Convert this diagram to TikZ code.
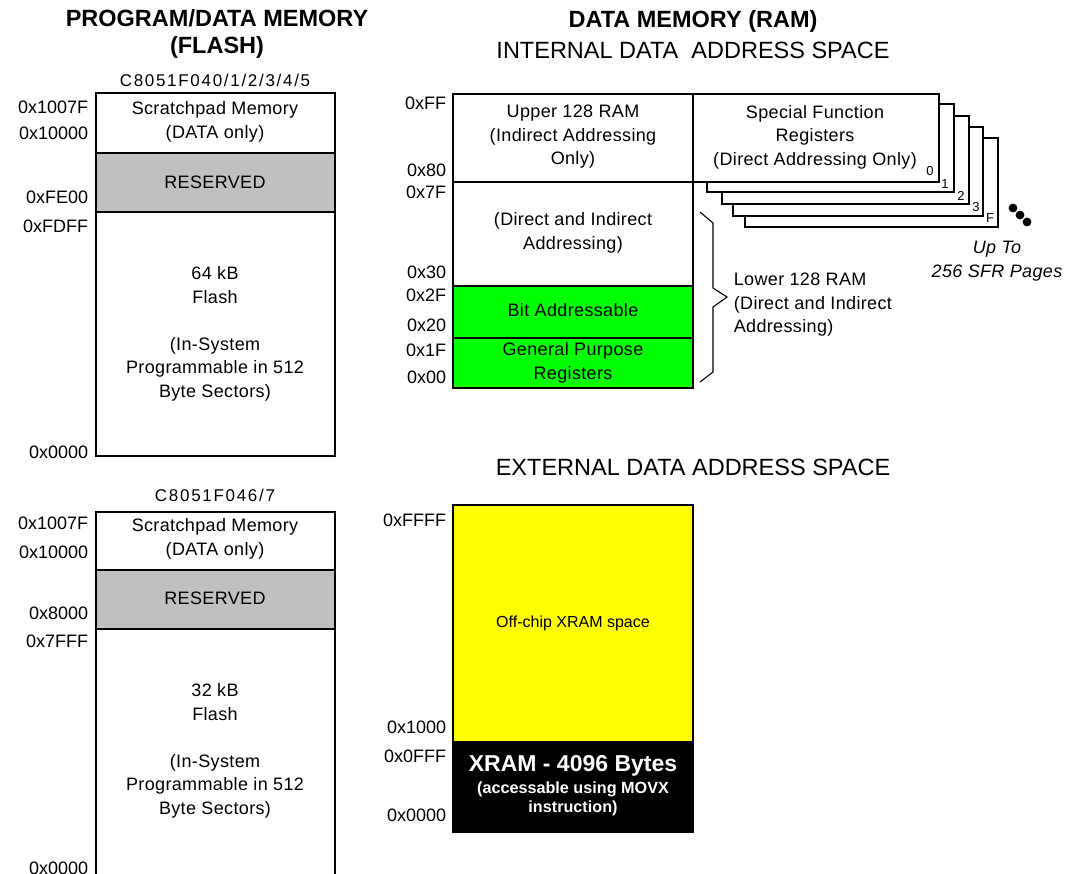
\documentclass[tikz,border=0pt]{standalone}
\usepackage{fontspec}
\setmainfont{Liberation Sans}
\definecolor{resgray}{RGB}{192,192,192}
\definecolor{ramgreen}{RGB}{0,255,0}
\definecolor{xyellow}{RGB}{255,255,0}
\begin{document}
\begin{tikzpicture}[x=1pt,y=-1pt,line width=1.6pt,
  lbl/.style={anchor=east,inner sep=0pt,font=\fontsize{18}{22}\selectfont},
  txt/.style={align=center,inner sep=0pt,font=\fontsize{18}{23.5}\selectfont\addfontfeatures{LetterSpace=2}},
  ttl/.style={align=center,inner sep=0pt,font=\fontsize{23.5}{27}\selectfont\bfseries},
  sub/.style={align=center,inner sep=0pt,font=\fontsize{23.5}{26}\selectfont},
  chip/.style={inner sep=0pt,font=\fontsize{17}{20}\selectfont\addfontfeatures{LetterSpace=10}},
  pg/.style={inner sep=0pt,font=\fontsize{13}{14}\selectfont},
  box/.style={draw=black,fill=white}]
\useasboundingbox (0,0) rectangle (1070,873);

% ---------- titles ----------
\node[ttl] (t1) at (217,34) {PROGRAM/DATA MEMORY\\(FLASH)};
\node[ttl] (t2) at (693,21) {DATA MEMORY (RAM)};
\node[sub] (t3) at (693,50) {INTERNAL DATA\ \ ADDRESS SPACE};
\node[sub] (t4) at (693,467) {EXTERNAL DATA ADDRESS SPACE};

% ---------- flash box 1 ----------
\node[chip] (c1) at (215,80) {C8051F040/1/2/3/4/5};
\filldraw[box] (96,93) rectangle (335,456);
\filldraw[draw=black,fill=resgray] (96,153) rectangle (335,212);
\node[txt] (sp1) at (215,122) {Scratchpad Memory\\(DATA only)};
\node[txt] (rs1) at (215,182) {RESERVED};
\node[txt] (fl1) at (215,285) {64 kB\\Flash};
\node[txt] (is1) at (215,369) {(In-System\\Programmable in 512\\Byte Sectors)};
\node[lbl] (a11) at (89,107) {0x1007F};
\node[lbl] (a12) at (89,133) {0x10000};
\node[lbl] (a13) at (89,197) {0xFE00};
\node[lbl] (a14) at (89,226) {0xFDFF};
\node[lbl] (a15) at (89,452) {0x0000};

% ---------- flash box 2 ----------
\node[chip] (c2) at (215,495) {C8051F046/7};
\fill[white] (96,512) rectangle (335,880);
\draw (96,880) -- (96,512) -- (335,512) -- (335,880);
\filldraw[draw=black,fill=resgray] (96,570) rectangle (335,629);
\node[txt] (sp2) at (215,539) {Scratchpad Memory\\(DATA only)};
\node[txt] (rs2) at (215,598) {RESERVED};
\node[txt] (fl2) at (215,702) {32 kB\\Flash};
\node[txt] (is2) at (215,786) {(In-System\\Programmable in 512\\Byte Sectors)};
\node[lbl] (a21) at (89,523) {0x1007F};
\node[lbl] (a22) at (89,552) {0x10000};
\node[lbl] (a23) at (89,613) {0x8000};
\node[lbl] (a24) at (89,641) {0x7FFF};
\node[lbl] (a25) at (89,868) {0x0000};

% ---------- SFR pages ----------
\filldraw[box] (745,138) rectangle (998,227);
\filldraw[box] (733,127) rectangle (983,216);
\filldraw[box] (722,116) rectangle (969,204);
\filldraw[box] (707,104) rectangle (954,192);
\filldraw[box] (693,94) rectangle (939,182);
\node[txt] (sfr) at (815,137) {Special Function\\Registers\\(Direct Addressing Only)};
\node[pg] (p0) at (930,171) {0};
\node[pg] (p1) at (945,184) {1};
\node[pg] (p2) at (961,196) {2};
\node[pg] (p3) at (976,207) {3};
\node[pg] (pF) at (990,218) {F};
\fill (1013,208) circle (4.4);
\fill (1020,215) circle (4.4);
\fill (1027,222) circle (4.4);
\node[txt,font=\fontsize{18}{23.5}\selectfont\itshape\addfontfeatures{LetterSpace=2}] (upto) at (997,261) {Up To\\256 SFR Pages};

% ---------- internal RAM ----------
\filldraw[box] (453,94) rectangle (693,388);
\draw (453,182) -- (693,182);
\filldraw[draw=black,fill=ramgreen] (453,286) rectangle (693,338);
\filldraw[draw=black,fill=ramgreen] (453,338) rectangle (693,388);
\node[txt] (up) at (573,137) {Upper 128 RAM\\(Indirect Addressing\\Only)};
\node[txt] (di) at (573,233) {(Direct and Indirect\\Addressing)};
\node[txt] (ba) at (573,310) {Bit Addressable};
\node[txt] (gp) at (573,363) {General Purpose\\Registers};
\node[lbl] (r1) at (447,103) {0xFF};
\node[lbl] (r2) at (447,170) {0x80};
\node[lbl] (r3) at (447,192) {0x7F};
\node[lbl] (r4) at (447,272) {0x30};
\node[lbl] (r5) at (447,295) {0x2F};
\node[lbl] (r6) at (447,325) {0x20};
\node[lbl] (r7) at (447,350) {0x1F};
\node[lbl] (r8) at (447,377) {0x00};

% brace
\draw[line width=1.1pt] (700,212) -- (713,223) -- (713,288) -- (727,297) -- (713,307) -- (713,372) -- (700,382);
\node[txt,align=left,anchor=west] (low) at (733,305) {Lower 128 RAM\\(Direct and Indirect\\Addressing)};

% ---------- external RAM ----------
\filldraw[draw=black,fill=xyellow] (453,505) rectangle (693,742);
\filldraw[draw=black,fill=black] (453,742) rectangle (693,832);
\node[txt,font=\fontsize{16}{18}\selectfont] (off) at (573,623) {Off-chip XRAM space};
\node[txt,text=white,font=\fontsize{23}{26}\selectfont\bfseries] (xr) at (573,766) {XRAM - 4096 Bytes};
\node[txt,text=white,font=\fontsize{16.2}{18.5}\selectfont\bfseries] (acc) at (573,799) {(accessable using MOVX\\instruction)};
\node[lbl] (e1) at (447,520) {0xFFFF};
\node[lbl] (e2) at (447,727) {0x1000};
\node[lbl] (e3) at (447,756) {0x0FFF};
\node[lbl] (e4) at (447,815) {0x0000};
\end{tikzpicture}
\end{document}
